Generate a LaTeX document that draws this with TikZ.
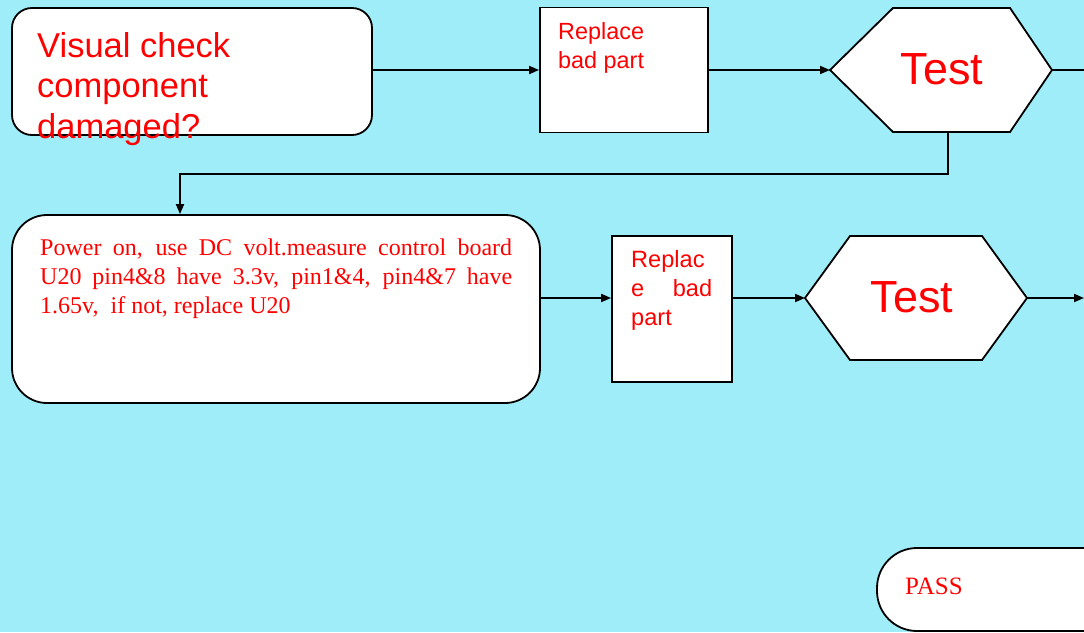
\documentclass[tikz,border=0pt]{standalone}
\usepackage{fontspec}
\setmainfont{Liberation Serif}
\setsansfont{Liberation Sans}
\usetikzlibrary{arrows.meta}
\definecolor{bg}{RGB}{160,237,250}
\definecolor{txt}{RGB}{255,0,0}
\begin{document}
\begin{tikzpicture}[x=1pt,y=-1pt,
  box/.style={draw=black, fill=white, line width=1.8pt, inner sep=0pt},
  rbox/.style={box, rounded corners=#1},
  hexshape/.style={draw=black, fill=white, line width=1.8pt, line join=miter},
  arr/.style={-{Triangle[length=10pt,width=8pt]}, line width=1.8pt},
  conn/.style={line width=1.8pt},
  lbl/.style={inner sep=0pt, text=txt},
  sanslbl/.style={lbl, font=\sffamily\fontsize{#1}{29}\selectfont},
  seriflbl/.style={lbl, font=\rmfamily\fontsize{#1}{29}\selectfont}
]
\fill[bg] (0,0) rectangle (1084,632);
\useasboundingbox (0,0) rectangle (1084,632);

% row 1
\node[rbox=20pt, minimum width=360pt, minimum height=127pt] (b1) at (192,71.5) {};
\node[lbl, anchor=base west, align=left, font=\sffamily\fontsize{34.5}{40.5}\selectfont] (t1) at (37,138) {Visual check\\component\\damaged?};

\node[box, minimum width=168pt, minimum height=125pt] (b2) at (624,70) {};
\node[sanslbl=23.4, anchor=base west, align=left] (t2) at (558,68) {Replace\\bad part};

\draw[hexshape] (830,70) coordinate (h1w) -- (893,8) -- (1010,8) -- (1052,70) coordinate (h1e) -- (1010,132) -- (893,132) -- cycle;
\coordinate (h1s) at (948,132);
\node[lbl, font=\sffamily\fontsize{45}{54}\selectfont, anchor=base] (h1) at (942,84) {Test};

\coordinate (r1) at (1084,70);
\draw[arr] (b1.east |- b2.west) -- (b2.west);
\draw[arr] (b2.east) -- (h1w);
\draw[conn] (h1e) -- (r1);

% row 2
\node[rbox=35pt, minimum width=528pt, minimum height=188pt] (b3) at (276,309) {};
\node[seriflbl=24, anchor=north west, text width=472pt, align=justify] (t3) at (40,239) {Power on, use DC volt.measure control board U20 pin4\&8 have 3.3v, pin1\&4, pin4\&7 have 1.65v,\ \ if not, replace U20};

\coordinate (k1) at (948,174);
\coordinate (k2) at (180,174);
\draw[arr] (h1s) -- (k1) -- (k2) -- (b3.north -| k2);

\node[box, minimum width=120pt, minimum height=146pt] (b4) at (672,309) {};
\node[sanslbl=23.6, anchor=north west, text width=81pt, align=left] (t4) at (631,250) {Replac\\\leavevmode\hbox to 81pt{e\hfil bad}\\part};

\draw[hexshape] (805,298) coordinate (h2w) -- (850,236) -- (982,236) -- (1027,298) coordinate (h2e) -- (982,360) -- (850,360) -- cycle;
\node[lbl, font=\sffamily\fontsize{45}{54}\selectfont, anchor=base] (h2) at (912,312) {Test};

\coordinate (r2) at (1084,298);
\draw[arr] (b3.east |- h2w) -- (b4.west |- h2w);
\draw[arr] (b4.east |- h2w) -- (h2w);
\draw[arr] (h2e) -- (r2);

% PASS
\node[rbox=40pt, minimum width=260pt, minimum height=83pt] (b5) at (1007,589.5) {};
\node[seriflbl=25, anchor=base west] (t5) at (905,594) {PASS};
\end{tikzpicture}
\end{document}
